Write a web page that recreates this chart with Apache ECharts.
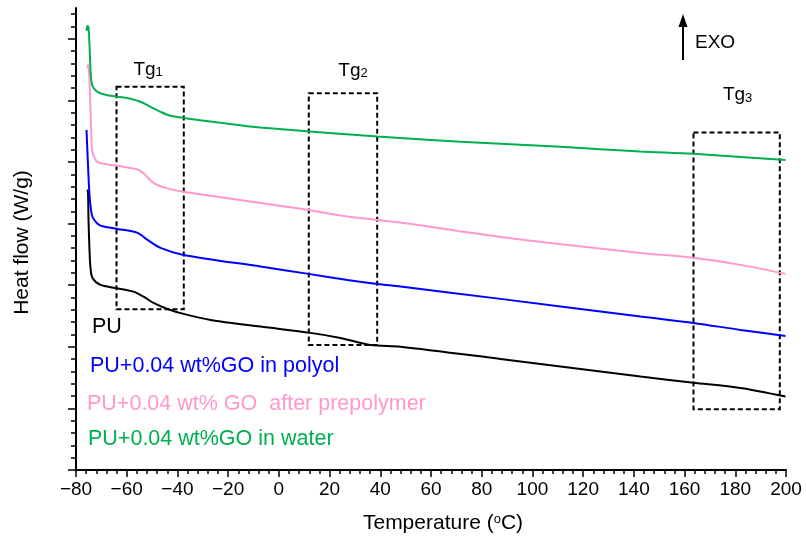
<!DOCTYPE html>
<html><head><meta charset="utf-8">
<script src="https://cdn.jsdelivr.net/npm/echarts@6/dist/echarts.min.js"></script>
<style>html,body{margin:0;padding:0;background:#fff}#c{width:806px;height:539px}</style>
</head><body><div id="c"></div>
<script>
const FONT = '"Liberation Sans", Arial, Helvetica, sans-serif';

// Temperature (°C) / heat flow (arbitrary units)
const tempPU = [-75.58,-75.27,-75.07,-74.68,-74.28,-73.49,-70.34,-64.42,-57.32,-53.38,-49.44,-43.92,-37.61,-26.96,-7.24,12.48,24.31,36.14,47.97,87.41,142.62,163.52,182.06,199.80];
const flowPU = [22.74,22.58,20.30,17.87,16.40,15.59,15.02,14.78,14.48,14.07,13.56,13.07,12.67,12.18,11.64,11.13,10.72,10.15,10.01,9.01,7.58,7.09,6.66,5.96];

const tempPolyol = [-75.86,-75.27,-74.68,-74.08,-73.49,-71.52,-69.16,-63.63,-55.75,-51.80,-46.68,-37.61,-7.24,11.69,27.07,38.90,47.97,87.41,142.62,163.52,182.06,199.80];
const flowPolyol = [27.61,24.77,22.33,21.11,20.55,19.98,19.76,19.57,19.25,18.68,18.03,17.46,16.51,15.92,15.43,15.10,14.89,13.89,12.45,11.94,11.37,10.88];

const tempPrepolymer = [-75.66,-75.19,-74.68,-74.28,-73.89,-73.49,-71.52,-63.63,-58.51,-54.56,-49.44,-44.70,-37.61,-7.24,11.69,27.07,38.90,47.97,87.41,142.62,163.52,182.06,199.80];
const flowPrepolymer = [32.65,32.89,31.67,29.24,26.80,25.82,25.01,24.69,24.52,24.28,23.31,22.90,22.58,21.68,21.11,20.57,20.30,20.08,18.92,17.62,17.22,16.65,15.92];

const tempWater = [-75.86,-75.46,-75.07,-74.68,-74.28,-73.89,-73.10,-71.52,-68.37,-63.63,-58.51,-54.56,-50.62,-46.68,-42.73,-37.61,-23.02,-7.24,38.90,71.63,111.07,142.62,163.52,199.80];
const flowWater = [35.65,36.06,35.90,34.51,32.48,31.51,31.02,30.70,30.46,30.30,30.14,29.89,29.48,29.07,28.75,28.58,28.18,27.80,27.07,26.64,26.23,25.85,25.66,25.17];

const seriesNames = ['PU', 'PU+0.04 wt%GO in polyol', 'PU+0.04 wt% GO  after prepolymer', 'PU+0.04 wt%GO in water'];
const seriesColors = ['#000000', '#0000ff', '#ff99cc', '#00b050'];

// Glass-transition boxes
const tgSubs = ['1', '2', '3'];
const tgTempRange = [[-64.03, -37.49], [11.81, 38.78], [163.52, 197.55]];
const tgFlowRange = [[13.05, 31.10], [10.15, 30.59], [4.93, 27.39]];

// Axis ticks
const xMin = -80, xMax = 200, xStep = 20;
const yMin = 0, yMax = 37.5;
const yMinorTicks = []; for (let v = 0; v <= 37; v += 1) yMinorTicks.push(v);
const yMajorTicks = [0, 5, 10, 15, 20, 25, 30, 35];

const zip = (a, b) => a.map((t, i) => [t, b[i]]);
const allTemps = [tempPU, tempPolyol, tempPrepolymer, tempWater];
const allFlows = [flowPU, flowPolyol, flowPrepolymer, flowWater];

const labelDist = [7, 12, 27];
const labelOff = [[-2, 0], [10, 0], [1, 0]];

const chart = echarts.init(document.getElementById('c'), null, {renderer: 'canvas'});
const series = allTemps.map((t, i) => ({
  name: seriesNames[i],
  type: 'line',
  data: zip(t, allFlows[i]),
  showSymbol: false,
  smooth: 0.3,
  lineStyle: {color: seriesColors[i], width: 2},
  itemStyle: {color: seriesColors[i]},
  emphasis: {disabled: true},
  z: 3
}));
series[0].markArea = {
  silent: true,
  itemStyle: {color: 'rgba(0,0,0,0)', borderColor: '#000', borderWidth: 2, borderType: [5, 3]},
  label: {
    show: true, position: 'top', color: '#000',
    rich: {
      a: {fontSize: 19, fontFamily: FONT, color: '#000', lineHeight: 22, verticalAlign: 'bottom'},
      s: {fontSize: 13, fontFamily: FONT, color: '#000', lineHeight: 6, verticalAlign: 'bottom'}
    }
  },
  emphasis: {disabled: true},
  data: tgSubs.map((s, i) => [
    {xAxis: tgTempRange[i][0], yAxis: tgFlowRange[i][1],
     label: {formatter: '{a|Tg}{s|' + s + '}', distance: labelDist[i], offset: labelOff[i]}},
    {xAxis: tgTempRange[i][1], yAxis: tgFlowRange[i][0]}
  ])
};

const legendY = [327.5, 366, 404, 439.5];
const legendX = [92, 90, 87, 88];

chart.setOption({
  animation: false,
  backgroundColor: '#fff',
  grid: {left: 76, right: 20, top: 8, bottom: 69},
  xAxis: {
    type: 'value', min: xMin, max: xMax, interval: xStep,
    name: 'Temperature ({o|o}C)', nameLocation: 'middle', nameGap: 43,
    nameTextStyle: {fontSize: 21, fontFamily: FONT, color: '#000', padding: [0, 0, 0, 24],
      rich: {o: {fontSize: 13, fontFamily: FONT, color: '#000', verticalAlign: 'top', lineHeight: 14, padding: [0, 0, 0, 0]}}},
    axisLine: {show: true, onZero: false, lineStyle: {color: '#000', width: 2}},
    axisTick: {show: true, inside: false, length: 7, lineStyle: {color: '#000', width: 1.5}},
    minorTick: {show: true, splitNumber: 5, length: 4, lineStyle: {color: '#000', width: 1.5}},
    axisLabel: {fontSize: 19, fontFamily: FONT, color: '#000', margin: 10,
      formatter: v => String(v).replace('-', '\u2212')},
    splitLine: {show: false}
  },
  yAxis: [{
    type: 'value', min: yMin, max: yMax, position: 'left',
    name: 'Heat flow (W/g)', nameLocation: 'middle', nameGap: 43,
    nameTextStyle: {fontSize: 21, fontFamily: FONT, color: '#000', padding: [0, 0, 0, -7]},
    axisLine: {show: true, onZero: false, lineStyle: {color: '#000', width: 2}},
    axisTick: {show: true, inside: false, length: 5, customValues: yMinorTicks, lineStyle: {color: '#000', width: 1.5}},
    axisLabel: {show: false},
    splitLine: {show: false}
  }, {
    type: 'value', min: yMin, max: yMax, position: 'left',
    axisLine: {show: false, onZero: false},
    axisTick: {show: true, inside: false, length: 8, customValues: yMajorTicks, lineStyle: {color: '#000', width: 1.5}},
    axisLabel: {show: false},
    splitLine: {show: false}
  }],
  series: series,
  graphic: [
    ...seriesNames.map((n, i) => ({
      type: 'text', x: legendX[i], y: legendY[i], silent: true,
      style: {text: n, fill: seriesColors[i], font: '21.5px ' + FONT, align: 'left', verticalAlign: 'middle'}
    })),
    {type: 'line', silent: true, shape: {x1: 683, y1: 60, x2: 683, y2: 24}, style: {stroke: '#000', lineWidth: 2}},
    {type: 'polygon', silent: true, shape: {points: [[683, 14], [678.5, 27], [687.5, 27]]}, style: {fill: '#000'}},
    {type: 'text', x: 695, y: 43, silent: true,
     style: {text: 'EXO', fill: '#000', font: '19px ' + FONT, align: 'left', verticalAlign: 'middle'}}
  ]
});
</script>
</body></html>
